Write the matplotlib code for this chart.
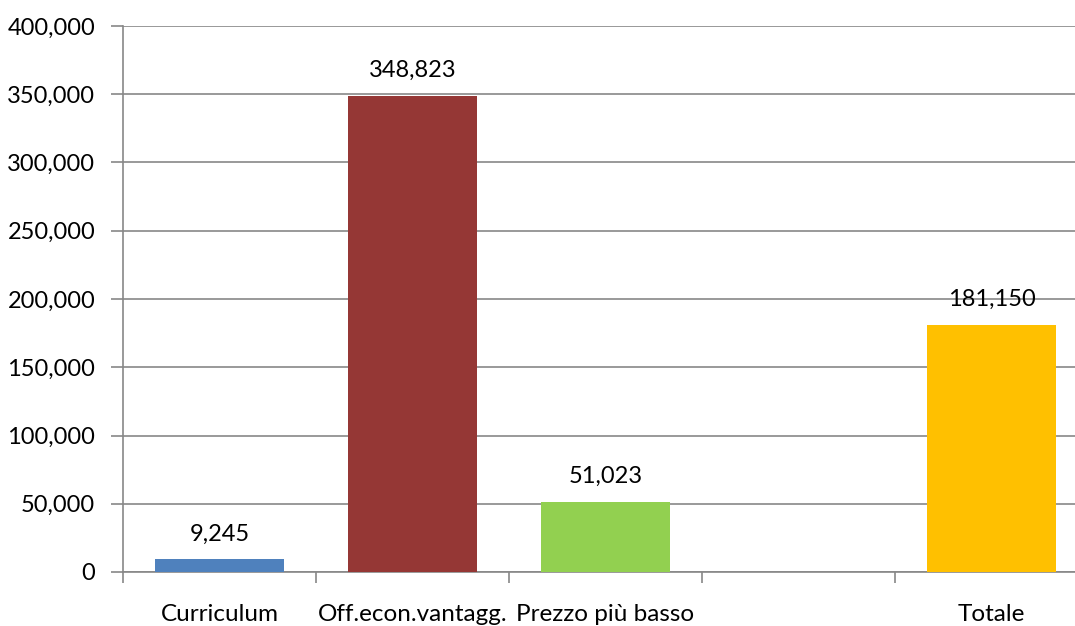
import matplotlib.pyplot as plt
from matplotlib.ticker import FuncFormatter, FixedLocator

# Dati
categorie = ['Curriculum', 'Off.econ.vantagg.', 'Prezzo più basso', '', 'Totale']
valori = [9245, 348823, 51023, None, 181150]
colori = ['#4F81BD', '#953735', '#92D050', '#FFFFFF', '#FFC000']

plt.rcParams['font.family'] = ['Lato', 'DejaVu Sans']

fig = plt.figure(figsize=(10.75, 6.26), dpi=100)
ax = fig.add_axes([123 / 1075, 1 - 572 / 626, (1088 - 123) / 1075, (572 - 26) / 626])

grigio = '#878787'
x = list(range(len(categorie)))
for i, v in enumerate(valori):
    if v is None:
        continue
    ax.bar(i, v, width=0.67, color=colori[i], zorder=3)
    ax.text(i, v + 11000, f'{v:,}', ha='center', va='bottom', fontsize=17, color='black')

ax.set_xlim(-0.5, len(categorie) - 0.5)
ax.set_ylim(0, 400000)
ax.set_yticks(range(0, 400001, 50000))
ax.yaxis.set_major_formatter(FuncFormatter(lambda v, p: f'{int(v):,}'))
ax.grid(axis='y', color=grigio, linewidth=1.2, zorder=0)

ax.set_xticks(x)
ax.set_xticklabels(categorie)
ax.xaxis.set_minor_locator(FixedLocator([i - 0.5 for i in range(len(categorie) + 1)]))
ax.tick_params(axis='x', which='major', length=0, pad=23, labelsize=17.5)
ax.tick_params(axis='x', which='minor', length=8, width=1.2, color=grigio)
ax.tick_params(axis='y', length=9, width=1.2, color=grigio, labelsize=17, pad=11)

for s in ['top', 'right']:
    ax.spines[s].set_visible(False)
for s in ['left', 'bottom']:
    ax.spines[s].set_color(grigio)
    ax.spines[s].set_linewidth(1.2)

fig.savefig('out.png', dpi=100)
